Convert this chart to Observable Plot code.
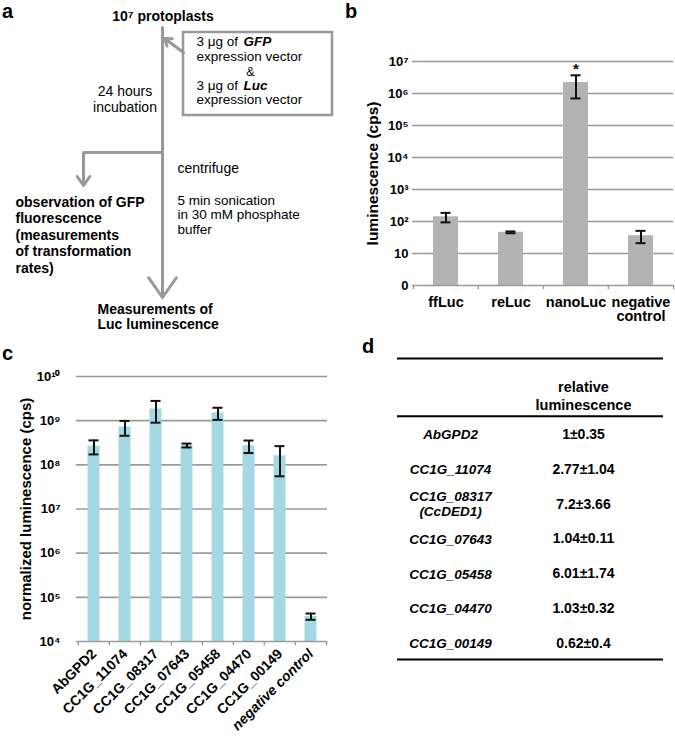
<!DOCTYPE html>
<html>
<head>
<meta charset="utf-8">
<script src="https://cdn.jsdelivr.net/npm/d3@7"></script>
<script src="https://cdn.jsdelivr.net/npm/@observablehq/plot@0.6"></script>
<style>
  body { margin: 0; background: #fff; }
  #fig { position: relative; width: 675px; height: 738px; overflow: hidden; background: #fff;
         font-family: "Liberation Sans", Arial, Helvetica, sans-serif; }
  .plab { position: absolute; font-weight: bold; font-size: 20px; line-height: 22px; color: #000; }
  #fig svg { overflow: visible; }
</style>
</head>
<body>
<div id="fig">
  <div class="plab" style="left:2px;top:0px">a</div>
  <div class="plab" style="left:345px;top:0px">b</div>
  <div class="plab" style="left:2px;top:342px">c</div>
  <div class="plab" style="left:362px;top:335px">d</div>
</div>
<script>
// ---------------- DATA ----------------
// Panel b
const bCategories = ["ffLuc", "reLuc", "nanoLuc", "negative control"];
const bValues = [140, 46, 2.2e6, 36];
const bErrors = [46, 3, 1.5e6, 15];
const bMarks = ["", "", "*", ""];
const bTicks = [1, 10, 100, 1e3, 1e4, 1e5, 1e6, 1e7];
const bTickLabels = ["0", "10", "10²", "10³", "10⁴", "10⁵", "10⁶", "10⁷"];

// Panel c
const cCategories = ["AbGPD2", "CC1G_11074", "CC1G_08317", "CC1G_07643", "CC1G_05458", "CC1G_04470", "CC1G_00149", "negative control"];
const cValues = [2.65e8, 7.2e8, 1.85e9, 2.75e8, 1.5e9, 2.7e8, 1.6e8, 3.7e4];
const cErrors = [0.93e8, 2.65e8, 0.95e9, 0.28e8, 0.46e9, 0.85e8, 1.05e8, 0.6e4];
const cTicks = [1e4, 1e5, 1e6, 1e7, 1e8, 1e9, 1e10];
const cTickLabels = ["10⁴", "10⁵", "10⁶", "10⁷", "10⁸", "10⁹", "10¹⁰"];

// Panel d
const dGenes = ["AbGPD2", "CC1G_11074", "CC1G_08317\n(CcDED1)", "CC1G_07643", "CC1G_05458", "CC1G_04470", "CC1G_00149"];
const dRelative = ["1±0.35", "2.77±1.04", "7.2±3.66", "1.04±0.11", "6.01±1.74", "1.03±0.32", "0.62±0.4"];
const dHeader = ["relative", "luminescence"];

// Panel a (flow chart)
const flowBoldMiddle = [{x: 162.5, y: 16, text: "10⁷ protoplasts"}];
const flowBoldLeft = [
  {x: 15, y: 202, text: "observation of GFP"},
  {x: 15, y: 218.5, text: "fluorescence"},
  {x: 15, y: 235, text: "(measurements"},
  {x: 15, y: 251.5, text: "of transformation"},
  {x: 15, y: 268, text: "rates)"},
  {x: 97, y: 309, text: "Measurements of"},
  {x: 97, y: 324, text: "Luc luminescence"}
];
const flowSmallLeft = [
  {x: 196, y: 41, text: "3 μg of"},
  {x: 196, y: 56.5, text: "expression vector"},
  {x: 196, y: 85, text: "3 μg of"},
  {x: 196, y: 99.5, text: "expression vector"},
  {x: 177, y: 200, text: "5 min sonication"},
  {x: 177, y: 214.5, text: "in 30 mM phosphate"},
  {x: 177, y: 229, text: "buffer"}
];
const flowRegularLeft = [
  {x: 177, y: 168, text: "centrifuge"}
];
const flowSmallMiddle = [
  {x: 250, y: 71, text: "&"}
];
const flowRegularMiddle = [
  {x: 124.5, y: 91, text: "24 hours"},
  {x: 124.5, y: 107, text: "incubation"}
];
const flowEmph = [
  {x: 243, y: 41, text: "GFP"},
  {x: 243, y: 85, text: "Luc"}
];
const flowArrows = [
  {x1: 162, y1: 27, x2: 162, y2: 297},
  {x1: 183, y1: 52, x2: 164, y2: 38},
  {x1: 83, y1: 152, x2: 83, y2: 185}
];
const flowLinks = [{x1: 162, y1: 152, x2: 83, y2: 152}];
const flowBox = [{x1: 183, y1: 32, x2: 332, y2: 115}];

// ---------------- STYLE ----------------
const FONT = "'Liberation Sans', Arial, Helvetica, sans-serif";
const GRID = "#9a9a9a";
const ARROW = "#999999";
const fig = document.getElementById("fig");
function place(el, left, top) {
  el.style.position = "absolute";
  el.style.left = left + "px";
  el.style.top = top + "px";
  fig.appendChild(el);
}
const baseStyle = {fontFamily: FONT, color: "#000", background: "none", overflow: "visible"};

// ---------------- PANEL A ----------------
const plotA = Plot.plot({
  width: 340, height: 335, margin: 0,
  x: {type: "identity", axis: null}, y: {type: "identity", axis: null},
  style: baseStyle,
  marks: [
    Plot.rect(flowBox, {x1: "x1", y1: "y1", x2: "x2", y2: "y2", fill: "white", stroke: ARROW, strokeWidth: 2.5}),
    Plot.link(flowLinks, {x1: "x1", y1: "y1", x2: "x2", y2: "y2", stroke: ARROW, strokeWidth: 3}),
    Plot.arrow(flowArrows, {x1: "x1", y1: "y1", x2: "x2", y2: "y2", stroke: ARROW, strokeWidth: 3, headLength: 12, headAngle: 70}),
    Plot.text(flowBoldMiddle, {x: "x", y: "y", text: "text", fontWeight: "bold", fontSize: 14, textAnchor: "middle"}),
    Plot.text(flowBoldLeft, {x: "x", y: "y", text: "text", fontWeight: "bold", fontSize: 14, textAnchor: "start"}),
    Plot.text(flowRegularLeft, {x: "x", y: "y", text: "text", fontSize: 14, textAnchor: "start"}),
    Plot.text(flowSmallLeft, {x: "x", y: "y", text: "text", fontSize: 13.5, textAnchor: "start"}),
    Plot.text(flowRegularMiddle, {x: "x", y: "y", text: "text", fontSize: 14, textAnchor: "middle"}),
    Plot.text(flowSmallMiddle, {x: "x", y: "y", text: "text", fontSize: 12.5, textAnchor: "middle"}),
    Plot.text(flowEmph, {x: "x", y: "y", text: "text", fontSize: 13.5, fontWeight: "bold", fontStyle: "italic", textAnchor: "start"})
  ]
});
place(plotA, 0, 0);

// ---------------- PANEL B ----------------
const bData = bCategories.map((c, i) => ({cat: c, v: bValues[i], lo: bValues[i] - bErrors[i], hi: bValues[i] + bErrors[i], mark: bMarks[i]}));
const bW = 335, bML = 72, bMR = 2;
const bBand = (bW - bML - bMR) / bCategories.length;
const plotB = Plot.plot({
  width: bW, height: 330, marginLeft: bML, marginRight: bMR, marginTop: 61, marginBottom: 45,
  x: {domain: bCategories, padding: 0},
  y: {type: "log", domain: [1, 1e7]},
  style: baseStyle,
  marks: [
    Plot.ruleY(bTicks.slice(1), {stroke: GRID, strokeWidth: 1.6}),
    Plot.barY(bData, {x: "cat", y1: () => 1, y2: "v", fill: "#b3b3b3", insetLeft: 20, insetRight: 20}),
    Plot.ruleY([1], {stroke: GRID, strokeWidth: 1.6}),
    Plot.ruleX(bCategories, {x: d => d, y1: () => 1, y2: () => 0.74, dx: -bBand / 2, stroke: GRID, strokeWidth: 1.4}),
    Plot.ruleX(bCategories.slice(-1), {x: d => d, y1: () => 1, y2: () => 0.74, dx: bBand / 2, stroke: GRID, strokeWidth: 1.4}),
    Plot.ruleX(bData, {x: "cat", y1: "lo", y2: "hi", stroke: "#111", strokeWidth: 2}),
    Plot.tickY(bData, {x: "cat", y: "lo", stroke: "#111", strokeWidth: 2, insetLeft: 27.5, insetRight: 27.5}),
    Plot.tickY(bData, {x: "cat", y: "hi", stroke: "#111", strokeWidth: 2, insetLeft: 27.5, insetRight: 27.5}),
    Plot.text(bData.filter(d => d.mark), {x: "cat", y: "hi", text: "mark", dy: -6, fontSize: 15, fontWeight: "bold"}),
    Plot.axisY({ticks: bTicks, tickFormat: d => bTickLabels[bTicks.indexOf(d)], tickSize: 0, tickPadding: 4, label: null, fontWeight: "bold", fontSize: 13}),
    Plot.axisX({tickSize: 0, tickPadding: 11, label: null, fontWeight: "bold", fontSize: 14.5, lineHeight: 1,
      tickFormat: d => d === "negative control" ? "negative\ncontrol" : d}),
    Plot.text(["luminescence (cps)"], {frameAnchor: "left", textAnchor: "middle", dx: -39, rotate: -90, fontWeight: "bold", fontSize: 15.5})
  ]
});
place(plotB, 340, 0);

// ---------------- PANEL C ----------------
const cData = cCategories.map((c, i) => ({cat: c, v: cValues[i], lo: cValues[i] - cErrors[i], hi: cValues[i] + cErrors[i]}));
const cW = 340, cML = 76, cMR = 13;
const cBand = (cW - cML - cMR) / cCategories.length;
const plotC = Plot.plot({
  width: cW, height: 398, marginLeft: cML, marginRight: cMR, marginTop: 36, marginBottom: 97,
  x: {domain: cCategories, padding: 0},
  y: {type: "log", domain: [1e4, 1e10]},
  style: baseStyle,
  marks: [
    Plot.ruleY(cTicks.slice(1), {stroke: GRID, strokeWidth: 1.6}),
    Plot.barY(cData, {x: "cat", y1: () => 1e4, y2: "v", fill: "#a4d9e4", insetLeft: 9.5, insetRight: 9.5}),
    Plot.ruleY([1e4], {stroke: GRID, strokeWidth: 1.6}),
    Plot.ruleX(cCategories, {x: d => d, y1: () => 1e4, y2: () => 0.8e4, dx: -cBand / 2, stroke: GRID, strokeWidth: 1.4}),
    Plot.ruleX(cCategories.slice(-1), {x: d => d, y1: () => 1e4, y2: () => 0.8e4, dx: cBand / 2, stroke: GRID, strokeWidth: 1.4}),
    Plot.ruleX(cData, {x: "cat", y1: "lo", y2: "hi", stroke: "#111", strokeWidth: 2}),
    Plot.tickY(cData, {x: "cat", y: "lo", stroke: "#111", strokeWidth: 2, insetLeft: 10.5, insetRight: 10.5}),
    Plot.tickY(cData, {x: "cat", y: "hi", stroke: "#111", strokeWidth: 2, insetLeft: 10.5, insetRight: 10.5}),
    Plot.axisY({ticks: cTicks, tickFormat: d => cTickLabels[cTicks.indexOf(d)], tickSize: 0, tickPadding: 16, label: null, fontWeight: "bold", fontSize: 13}),
    Plot.axisX({ticks: cCategories.slice(0, -1), tickSize: 0, tickPadding: 10, tickRotate: -45, label: null, fontWeight: "bold", fontSize: 14}),
    Plot.axisX({ticks: cCategories.slice(-1), tickSize: 0, tickPadding: 10, tickRotate: -45, label: null, fontWeight: "bold", fontStyle: "italic", fontSize: 14}),
    Plot.text(["normalized luminescence (cps)"], {frameAnchor: "left", textAnchor: "middle", dx: -50, rotate: -90, fontWeight: "bold", fontSize: 15})
  ]
});
place(plotC, 0, 340);

// ---------------- PANEL D ----------------
const plotD = Plot.plot({
  width: 315, height: 350, marginLeft: 37, marginRight: 12, marginTop: 0, marginBottom: 0,
  x: {domain: [0, 1], range: [90, 223], axis: null},
  y: {domain: [0, 6], range: [104, 313], axis: null},
  style: baseStyle,
  marks: [
    Plot.ruleY([-2.18, 6.46], {stroke: "#000", strokeWidth: 2}),
    Plot.ruleY([-0.525], {stroke: "#000", strokeWidth: 2}),
    Plot.text(dHeader, {x: () => 1, y: (d, i) => -1.35 + i * 0.517, text: d => d, fontWeight: "bold", fontSize: 14.5}),
    Plot.text(dGenes, {x: () => 0, y: (d, i) => i, text: d => d, fontWeight: "bold", fontStyle: "italic", fontSize: 13.5, lineHeight: 1.1}),
    Plot.text(dRelative, {x: () => 1, y: (d, i) => i, text: d => d, fontWeight: "bold", fontSize: 14})
  ]
});
place(plotD, 360, 330);
</script>
</body>
</html>
